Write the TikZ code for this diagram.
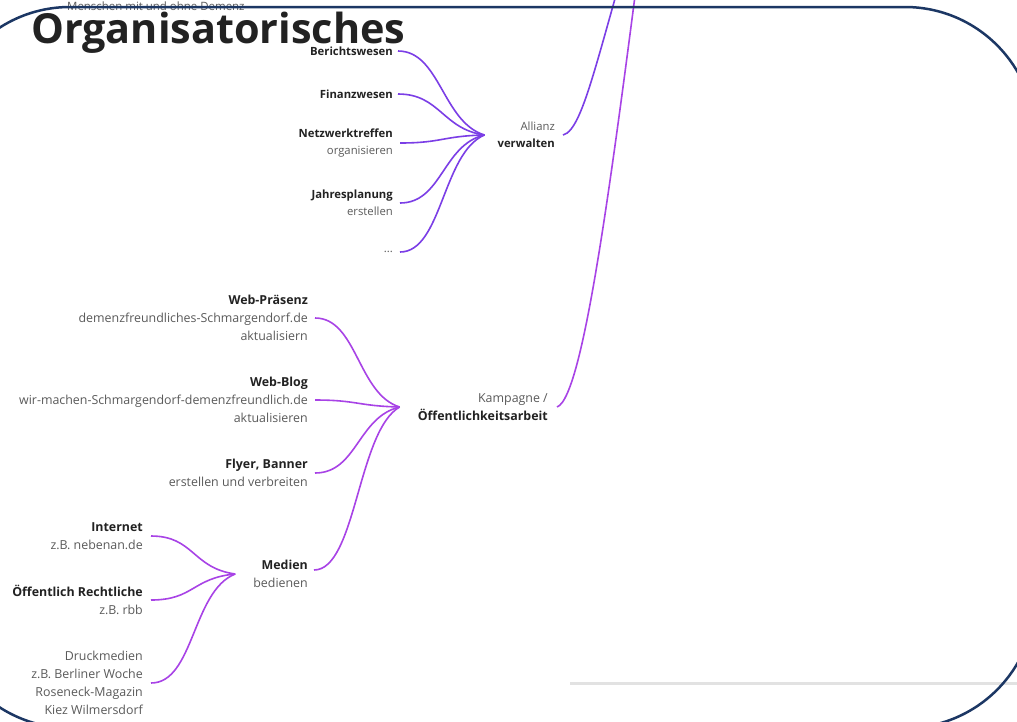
\documentclass[tikz,border=0pt]{standalone}
\usepackage{fontspec}
\setmainfont{Open Sans}
\definecolor{framecol}{HTML}{1C3764}
\definecolor{violetA}{HTML}{7B3EE6}
\definecolor{violetB}{HTML}{A843E6}
\definecolor{darktxt}{HTML}{222222}
\definecolor{graytxt}{HTML}{5A5A5A}
\definecolor{rulegray}{HTML}{E2E2E2}
\tikzset{
  lbl/.style={inner sep=0pt, align=right, anchor=east, text=graytxt},
  up/.style={lbl, font=\fontsize{11.3}{17}\selectfont},
  lo/.style={lbl, font=\fontsize{12.4}{18}\selectfont},
  connA/.style={draw=violetA, line width=1.6pt},
  connB/.style={draw=violetB, line width=1.6pt},
  framestyle/.style={draw=framecol, line width=2.5pt, rounded corners=130pt},
}
\newcommand{\bt}[1]{\textcolor{darktxt}{\bfseries #1}}
\begin{document}
\begin{tikzpicture}[x=1pt,y=-1pt]
\path[use as bounding box] (0,0) rectangle (1017,721);
\clip (0,0) rectangle (1017,721);
\fill[white] (0,0) rectangle (1017,721);

% light rule
\draw[rulegray, line width=3pt] (570,683) -- (1017,683);

% texts
\node[anchor=base west, inner sep=0pt, text=graytxt, font=\fontsize{11.45}{13}\selectfont] (menschen) at (67,10) {Menschen mit und ohne Demenz};
\node[anchor=base west, inner sep=0pt, text=darktxt, font=\fontsize{41.4}{44}\selectfont\bfseries] (title) at (31,43) {Organisatorisches};

% upper branch
\node[up] (ber) at (393,51) {\bt{Berichtswesen}};
\node[up] (fin) at (393,94) {\bt{Finanzwesen}};
\node[up] (netz) at (393,143) {\bt{Netzwerktreffen}\\organisieren};
\node[up] (jahr) at (393,203) {\bt{Jahresplanung}\\erstellen};
\node[up] (dots) at (393,252) {...};
\node[up] (all) at (555,135) {Allianz\\\bt{verwalten}};

% lower branch
\node[lo] (web) at (308,318) {\bt{Web-Präsenz}\\demenzfreundliches-Schmargendorf.de\\aktualisiern};
\node[lo] (blog) at (308,400) {\bt{Web-Blog}\\wir-machen-Schmargendorf-demenzfreundlich.de\\aktualisieren};
\node[lo] (fly) at (308,473) {\bt{Flyer, Banner}\\erstellen und verbreiten};
\node[lo] (med) at (308,574) {\bt{Medien}\\bedienen};
\node[lo] (kamp) at (548,407) {Kampagne /\\\bt{Öffentlichkeitsarbeit}};
\node[lo] (int) at (143,536) {\bt{Internet}\\z.B. nebenan.de};
\node[lo] (oer) at (143,600) {\bt{Öffentlich Rechtliche}\\z.B. rbb};
\node[lo] (druck) at (143,683) {Druckmedien\\z.B. Berliner Woche\\Roseneck-Magazin\\Kiez Wilmersdorf};

\coordinate (root) at (650,-120);
\coordinate (h1) at ([xshift=-13pt]all.west);
\coordinate (h2) at ([xshift=-18pt]kamp.west);
\coordinate (h3) at ([xshift=-18pt]med.west);

% upper connectors
\draw[connA] ([xshift=5pt]ber.east) .. controls +(42,0) and +(-42,-13) .. (h1);
\draw[connA] ([xshift=5pt]fin.east) .. controls +(42,0) and +(-42,-6) .. (h1);
\draw[connA] ([xshift=7pt]netz.east) .. controls +(42,0) and +(-42,1) .. (h1);
\draw[connA] ([xshift=7pt]jahr.east) .. controls +(42,0) and +(-42,10) .. (h1);
\draw[connA] ([xshift=7pt]dots.east) .. controls +(42,0) and +(-42,18) .. (h1);
\draw[connA] ([xshift=8pt]all.east) .. controls +(22,-5) and +(-50,160) .. (root);

% lower connectors
\draw[connB] ([xshift=7pt]web.east) .. controls +(42,0) and +(-42,-13) .. (h2);
\draw[connB] ([xshift=7pt]blog.east) .. controls +(42,0) and +(-42,-1) .. (h2);
\draw[connB] ([xshift=7pt]fly.east) .. controls +(42,0) and +(-42,10) .. (h2);
\draw[connB] ([xshift=6pt,yshift=4pt]med.east) .. controls +(42,0) and +(-42,24) .. (h2);
\draw[connB] ([xshift=9pt]kamp.east) .. controls +(28,-10) and +(-35,270) .. (root);
\draw[connB] ([xshift=8pt]int.east) .. controls +(43,0) and +(-43,-6) .. (h3);
\draw[connB] ([xshift=8pt]oer.east) .. controls +(43,0) and +(-43,4) .. (h3);
\draw[connB] ([xshift=8pt]druck.east) .. controls +(43,0) and +(-43,17) .. (h3);

% frame
\draw[framestyle] (-60,7) rectangle (1035,728);
\end{tikzpicture}
\end{document}
